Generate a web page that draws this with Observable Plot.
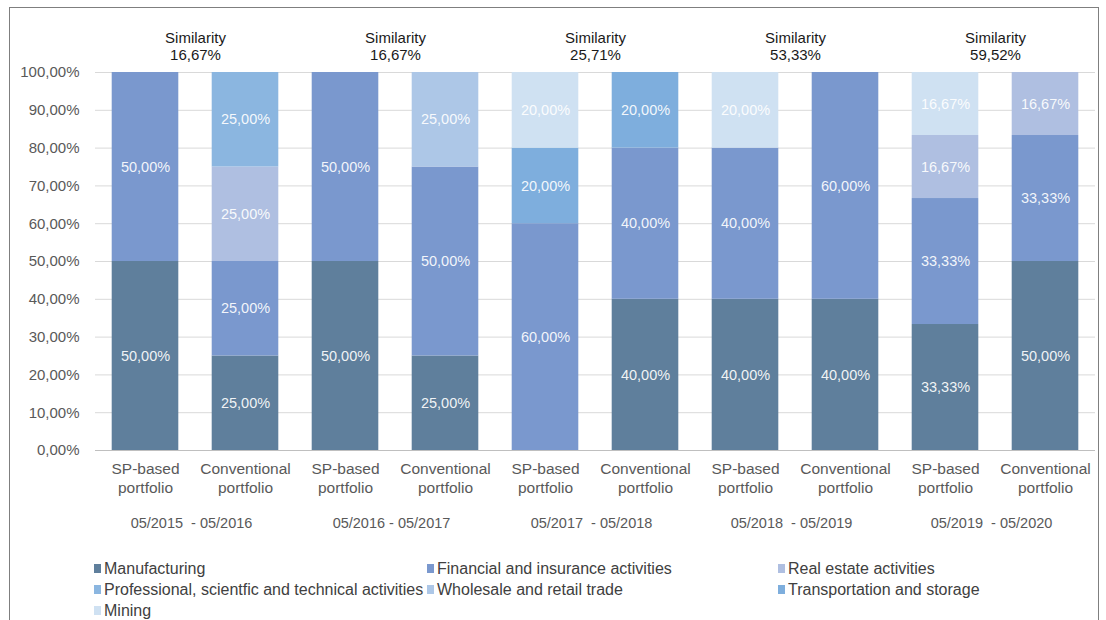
<!DOCTYPE html>
<html>
<head>
<meta charset="utf-8">
<script src="https://cdn.jsdelivr.net/npm/d3@7"></script>
<script src="https://cdn.jsdelivr.net/npm/@observablehq/plot@0.6"></script>
<style>
  html, body { margin: 0; padding: 0; background: #fff; }
  body { width: 1106px; height: 620px; position: relative; overflow: hidden; font-family: "Liberation Sans", Arial, sans-serif; }
  #frame { position: absolute; left: 9px; top: 7px; width: 1090px; height: 640px; border: 1px solid #7f7f7f; box-sizing: border-box; }
  #chart { position: absolute; left: 0; top: 0; }
  #legend { position: absolute; left: 94px; top: 558px; display: grid; grid-template-columns: 333px 351px 300px; grid-auto-rows: 21px; font-size: 16px; color: #404040; }
  .item { display: flex; align-items: center; white-space: nowrap; }
  .sw { width: 7px; height: 9px; margin-right: 3px; flex: none; }
</style>
</head>
<body>
<div id="frame"></div>
<div id="chart"></div>
<div id="legend"></div>
<script>
const periods = ["05/2015  - 05/2016", "05/2016 - 05/2017", "05/2017  - 05/2018", "05/2018  - 05/2019", "05/2019  - 05/2020"];
const portfolios = ["SP-based portfolio", "Conventional portfolio"];
const portfolioLabels = ["SP-based\nportfolio", "Conventional\nportfolio"];
const similarity = [16.67, 16.67, 25.71, 53.33, 59.52];
const sectors = [
  "Manufacturing",
  "Financial and insurance activities",
  "Real estate activities",
  "Professional, scientfic and technical activities",
  "Wholesale and retail trade",
  "Transportation and storage",
  "Mining"
];
const sectorColors = ["#5f7f9c", "#7a98ce", "#afbfe1", "#8bb6e0", "#adc7e7", "#7eaedd", "#cfe1f2"];
// shares per bar: order = period1 SP, period1 Conv, period2 SP, period2 Conv, ...
const manufacturing  = [50, 25, 50, 25, 0, 40, 40, 40, 33.33, 50];
const financial      = [50, 25, 50, 50, 60, 40, 40, 60, 33.33, 33.33];
const realEstate     = [0, 25, 0, 0, 0, 0, 0, 0, 16.67, 16.67];
const professional   = [0, 25, 0, 0, 0, 0, 0, 0, 0, 0];
const wholesale      = [0, 0, 0, 25, 0, 0, 0, 0, 0, 0];
const transportation = [0, 0, 0, 0, 20, 20, 0, 0, 0, 0];
const mining         = [0, 0, 0, 0, 20, 0, 20, 0, 16.67, 0];
const sectorValues = [manufacturing, financial, realEstate, professional, wholesale, transportation, mining];

const data = [];
sectors.forEach((s, si) => {
  sectorValues[si].forEach((v, bi) => {
    if (v > 0) data.push({sector: s, period: periods[Math.floor(bi / 2)], portfolio: portfolios[bi % 2], value: v});
  });
});
const simData = periods.map((p, i) => ({period: p, sim: similarity[i]}));
const pct = v => v.toFixed(2).replace(".", ",") + "%";

const chart = Plot.plot({
  width: 1106,
  height: 545,
  marginTop: 72,
  marginBottom: 95,
  marginLeft: 93,
  marginRight: 9,
  style: {fontFamily: '"Liberation Sans", Arial, sans-serif', fontSize: "14px", background: "transparent"},
  fx: {domain: periods, padding: 0, axis: null},
  x: {domain: portfolios, padding: 0, axis: null},
  y: {domain: [0, 100], axis: null},
  color: {domain: sectors, range: sectorColors},
  marks: [
    Plot.gridY(d3.range(0, 101, 10), {stroke: "#d9d9d9", strokeOpacity: 1}),
    Plot.barY(data, {fx: "period", x: "portfolio", y: "value", fill: "sector", insetLeft: 16.7, insetRight: 16.7}),
    Plot.text(data, Plot.stackY({fx: "period", x: "portfolio", y: "value", z: "sector", text: d => pct(d.value), fill: "white", fillOpacity: 0.92, fontSize: 14.5})),
    Plot.ruleY([0], {stroke: "#bfbfbf"}),
    Plot.axisY({ticks: d3.range(0, 101, 10), tickFormat: pct, tickSize: 0, tickPadding: 16, label: null, fill: "#595959", fontSize: 15}),
    Plot.axisX({tickFormat: d => portfolioLabels[portfolios.indexOf(d)], tickSize: 0, tickPadding: 10, lineHeight: 1.23, label: null, fill: "#595959", fontSize: 15.5}),
    Plot.text(periods, {fx: d => d, text: d => d, frameAnchor: "bottom", dy: 77, dx: -4, fill: "#595959", fontSize: 14.5}),
    Plot.text(simData, {fx: "period", text: () => "Similarity", frameAnchor: "top", lineAnchor: "middle", dy: -34, fill: "#1a1a1a", fontSize: 15}),
    Plot.text(simData, {fx: "period", text: d => pct(d.sim), frameAnchor: "top", lineAnchor: "middle", dy: -17, fill: "#1a1a1a", fontSize: 15, fontWeight: 500})
  ]
});
document.getElementById("chart").appendChild(chart);

const legend = document.getElementById("legend");
sectors.forEach((s, i) => {
  const it = document.createElement("div");
  it.className = "item";
  const sw = document.createElement("span");
  sw.className = "sw";
  sw.style.background = sectorColors[i];
  const t = document.createElement("span");
  t.textContent = s;
  it.appendChild(sw);
  it.appendChild(t);
  legend.appendChild(it);
});
</script>
</body>
</html>
